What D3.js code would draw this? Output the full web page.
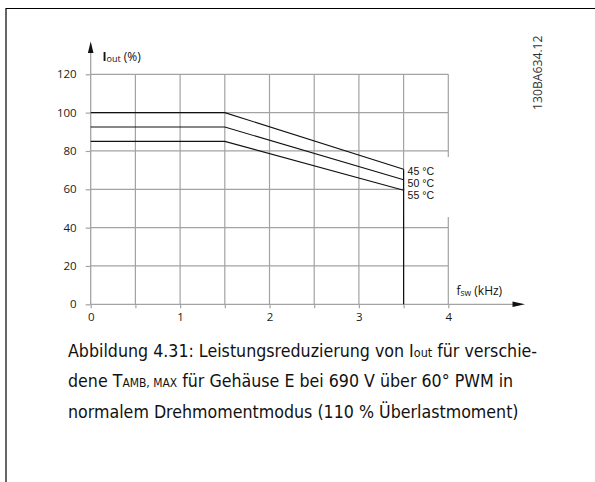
<!DOCTYPE html>
<html><head><meta charset="utf-8">
<script src="https://cdn.jsdelivr.net/npm/d3@7"></script>
<style>html,body{margin:0;padding:0;background:#fff;}svg{display:block;}</style>
</head><body>
<script>
// ---- data ----
const freqKHz = [0, 1.5, 3.5];
const iout45 = [100, 100, 70.5];
const iout50 = [92.5, 92.5, 65];
const iout55 = [85, 85, 59.5];
const seriesLabels = ["45 °C", "50 °C", "55 °C"];
const yTicks = [0, 20, 40, 60, 80, 100, 120];
const xTicks = [0, 1, 2, 3, 4];
const xGrid = [0.5, 1, 1.5, 2, 2.5, 3, 3.5, 4];
const cutoffKHz = 3.5;
const docId = "130BA634.12";

const W = 595, H = 482;
const svg = d3.select("body").append("svg").attr("width", W).attr("height", H);

const x = d3.scaleLinear().domain([0, 4]).range([90.7, 448.3]);
const y = d3.scaleLinear().domain([0, 120]).range([304.3, 74.3]);
const gridCol = "#a3a3a3";
const tickFont = "'Open Sans', 'Noto Sans', sans-serif";

// frame
svg.append("path").attr("d", `M6,${H} V8.5 H${W}`).attr("fill", "none").attr("stroke", "#000").attr("stroke-width", 1.2);

// grid
const g = svg.append("g");
g.selectAll(".hg").data(yTicks.filter(d => d > 0)).join("line")
  .attr("x1", x(0)).attr("x2", x(4)).attr("y1", d => y(d)).attr("y2", d => y(d))
  .attr("stroke", gridCol).attr("stroke-width", 1.2);
g.selectAll(".vg").data(xGrid).join("line")
  .attr("x1", d => x(d)).attr("x2", d => x(d)).attr("y1", y(120)).attr("y2", y(0))
  .attr("stroke", gridCol).attr("stroke-width", 1.2);

// white box behind temperature labels
svg.append("rect").attr("x", x(cutoffKHz) + 1).attr("y", 157).attr("width", 50).attr("height", 60).attr("fill", "#fff");

// axes
const yAxis = d3.axisLeft(y).tickValues(yTicks).tickSize(5).tickPadding(9);
const ya = svg.append("g").attr("transform", `translate(${x(0)},0)`).call(yAxis);
ya.select(".domain").remove();
ya.selectAll(".tick line").attr("stroke", gridCol).attr("stroke-width", 1.2);
ya.selectAll(".tick text").attr("font-family", tickFont).attr("font-size", 11.5).attr("fill", "#1a1a1a");

const xAxis = d3.axisBottom(x).tickValues(xGrid.concat([0]))
  .tickFormat(d => xTicks.includes(d) ? d : "").tickSize(4).tickPadding(5);
const xa = svg.append("g").attr("transform", `translate(0,${y(0)})`).call(xAxis);
xa.select(".domain").remove();
xa.selectAll(".tick line").attr("stroke", gridCol).attr("stroke-width", 1.2);
xa.selectAll(".tick text").attr("font-family", tickFont).attr("font-size", 11.5).attr("fill", "#1a1a1a");

// axis lines with arrows
svg.append("line").attr("x1", x(0)).attr("x2", x(0)).attr("y1", y(0)).attr("y2", 50)
  .attr("stroke", gridCol).attr("stroke-width", 1.3);
svg.append("path").attr("d", `M${x(0)},41.5 L${x(0) - 2.8},53 L${x(0) + 2.8},53 Z`).attr("fill", "#111");
svg.append("line").attr("x1", x(0)).attr("x2", 516).attr("y1", y(0)).attr("y2", y(0))
  .attr("stroke", gridCol).attr("stroke-width", 1.3);
svg.append("path").attr("d", `M525,${y(0)} L512.5,${y(0) - 2.8} L512.5,${y(0) + 2.8} Z`).attr("fill", "#111");

// axis titles
const yt = svg.append("text").attr("x", 102.5).attr("y", 60.5).attr("font-family", tickFont).attr("font-size", 12).attr("fill", "#111");
yt.append("tspan").text("I").attr("font-weight", "bold");
yt.append("tspan").text("out").attr("font-size", 9).attr("dy", 1.5);
yt.append("tspan").text(" (%)").attr("dy", -1.5);

const xt = svg.append("text").attr("x", 456.5).attr("y", 294.5).attr("font-family", tickFont).attr("font-size", 12).attr("fill", "#111");
xt.append("tspan").text("f");
xt.append("tspan").text("sw").attr("font-size", 8.5).attr("dy", 1.5);
xt.append("tspan").text(" (kHz)").attr("dy", -1.5);

// curves
const line = d3.line().x((d, i) => x(freqKHz[i])).y(d => y(d));
const allSeries = [iout45, iout50, iout55];
svg.selectAll(".curve").data(allSeries).join("path")
  .attr("d", d => line(d)).attr("fill", "none").attr("stroke", "#111").attr("stroke-width", 1.1);
// cutoff line
svg.append("line").attr("x1", x(cutoffKHz)).attr("x2", x(cutoffKHz))
  .attr("y1", y(d3.max(allSeries, s => s[s.length - 1]))).attr("y2", y(0))
  .attr("stroke", "#111").attr("stroke-width", 1.2);

// series labels
svg.selectAll(".slab").data(seriesLabels).join("text")
  .attr("x", x(cutoffKHz) + 4).attr("y", (d, i) => 175 + i * 12.2)
  .attr("font-family", "'Liberation Sans', Arial, sans-serif").attr("font-size", 10.5).attr("fill", "#111").text(d => d);

// document id
svg.append("text").attr("transform", "translate(541.5,110) rotate(-90)")
  .attr("font-family", tickFont).attr("font-size", 12.2).attr("fill", "#333").text(docId);

// caption
const capFont = "'DejaVu Sans', Verdana, sans-serif";
const cap = svg.append("g");
const lines = [
  [["Abbildung 4.31: Leistungsreduzierung von ", 17], ["I", 17], ["out", 12], [" für verschie-", 17]],
  [["dene T", 17], ["AMB, MAX", 11.5], [" für Gehäuse E bei 690 V über 60° PWM in", 17]],
  [["normalem Drehmomentmodus (110 % Überlastmoment)", 17]]
];
const capTexts = lines.map((parts, i) => {
  const t = cap.append("text").attr("x", 0).attr("y", 357 + i * 30.5)
    .attr("font-family", capFont).attr("fill", "#111");
  parts.forEach(p => t.append("tspan").text(p[0]).attr("font-size", p[1]));
  return t;
});
const w0 = capTexts[0].node().getComputedTextLength();
const sx = 469.5 / w0;
cap.attr("transform", `translate(68,0) scale(${sx},1)`);
</script>
</body></html>
